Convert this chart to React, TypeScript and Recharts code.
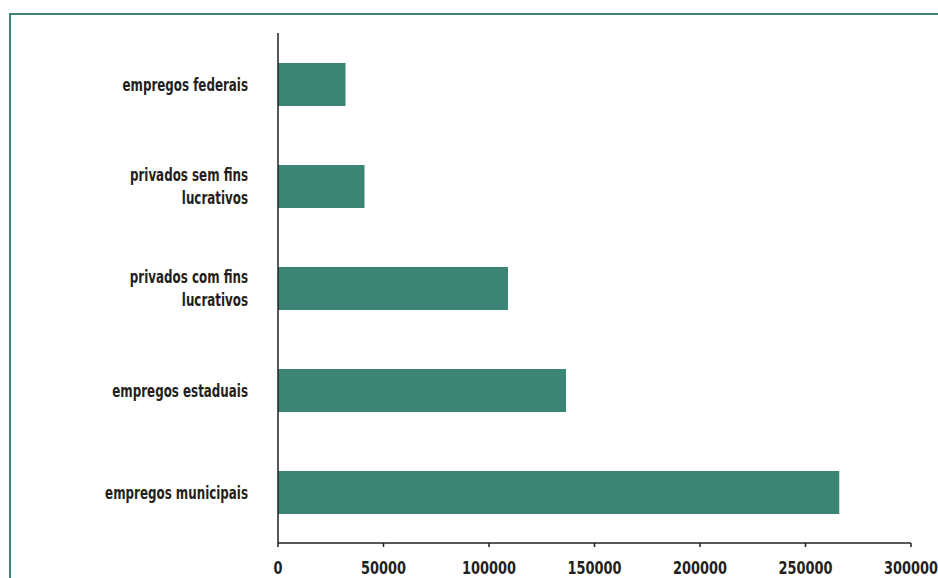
import { BarChart, Bar, XAxis, YAxis } from "recharts"

const categories = [
  "empregos federais",
  "privados sem fins\nlucrativos",
  "privados com fins\nlucrativos",
  "empregos estaduais",
  "empregos municipais",
]
const values = [32000, 41000, 109000, 136500, 266000]
const xTicks = [0, 50000, 100000, 150000, 200000, 250000, 300000]

const data = categories.map((name, i) => ({ name, value: values[i] }))

const font = "'DejaVu Sans', sans-serif"
const teal = "#3c8575"
const ink = "#231f20"

// the reference uses a condensed bold face; squeeze DejaVu horizontally
const squeeze = (x: number, k: number) => `translate(${x},0) scale(${k},1) translate(${-x},0)`

const CategoryTick = (props: any) => {
  const { x, y, payload } = props
  const lines = String(payload.value).split("\n")
  const lineH = 23
  const start = y + 1 - ((lines.length - 1) * lineH) / 2
  return (
    <text
      x={x}
      y={start}
      textAnchor="end"
      dominantBaseline="central"
      fontFamily={font}
      fontWeight="bold"
      fontSize={18}
      fill={ink}
      transform={squeeze(x, 0.66)}
    >
      {lines.map((l, i) => (
        <tspan key={i} x={x} y={start + i * lineH}>
          {l}
        </tspan>
      ))}
    </text>
  )
}

const ValueTick = (props: any) => {
  const { x, y, payload } = props
  return (
    <text
      x={x}
      y={y}
      dy="0.71em"
      textAnchor="middle"
      fontFamily={font}
      fontWeight="bold"
      fontSize={17.5}
      fill={ink}
      transform={squeeze(x, 0.74)}
    >
      {payload.value}
    </text>
  )
}

export default function App() {
  return (
    <div style={{ position: "absolute", left: 0, top: 0, width: 938, height: 578, overflow: "hidden", background: "#fff" }}>
      <div
        style={{
          position: "absolute",
          left: 9,
          top: 13,
          width: 940,
          height: 580,
          border: `2px solid ${teal}`,
          boxSizing: "border-box",
        }}
      />
      <BarChart
        width={938}
        height={578}
        data={data}
        layout="vertical"
        margin={{ top: 33, right: 27, left: 0, bottom: 0 }}
        style={{ position: "absolute", left: 0, top: 0 }}
      >
        <XAxis
          type="number"
          domain={[0, 300000]}
          ticks={xTicks}
          interval={0}
          height={35}
          stroke={ink}
          strokeWidth={1.5}
          tickSize={4}
          tickMargin={15}
          tick={<ValueTick />}
        />
        <YAxis
          type="category"
          dataKey="name"
          width={278}
          stroke={ink}
          strokeWidth={1.5}
          tickLine={false}
          tickSize={0}
          tickMargin={30}
          interval={0}
          tick={<CategoryTick />}
        />
        <Bar dataKey="value" fill={teal} barSize={43} isAnimationActive={false} />
      </BarChart>
    </div>
  )
}
